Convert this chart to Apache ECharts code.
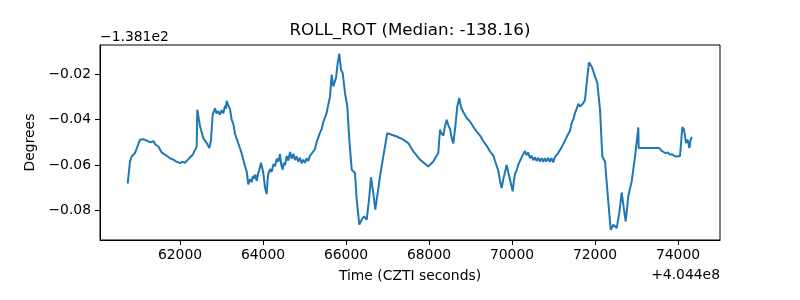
<!DOCTYPE html>
<html>
<head>
<meta charset="utf-8">
<script src="https://cdn.jsdelivr.net/npm/echarts@6/dist/echarts.min.js"></script>
<style>html,body{margin:0;padding:0;background:#fff}#c{width:800px;height:300px}</style>
</head>
<body>
<div id="c"></div>
<script>
// Axis offset labels (matplotlib-style offset text)
const timeOffsetLabel = "+4.044e8";
const rollOffsetLabel = "\u22121.381e2";
// Time (CZTI seconds, relative to +4.044e8)
const times = [
 60739,60795,60836,60915,61036,61075,61115,61160,61200,61236,61290,61356,61410,61477,61559,61620,61679,61760,61838,61920,62000,62060,62120,62180,62241,62300,62361,62402,62416,62482,62561,62643,62706,62747,62787,
 62843,62880,62922,62960,63004,63044,63084,63105,63125,63165,63204,63244,63284,63325,63366,63405,63445,63485,63525,63566,63607,63645,63686,63727,63755,63783,63815,63848,63880,63910,63951,63980,64007,64048,64089,64108,64127,64168,64209,64250,64289,64330,64368,64409,64440,64474,64500,64530,64570,64610,64650,64690,64730,64770,64810,64850,64890,64930,64970,65010,65050,65091,65130,65170,65212,65250,65290,65332,65370,65414,65450,65493,65530,65573,
 65614,65655,65693,65758,65799,65838,65879,65920,65975,66031,66079,66137,66216,66257,66320,66378,66433,66498,66554,66602,66657,66705,66763,66819,66898,66994,67100,67221,67380,67500,67621,67782,67982,68103,68223,
 68264,68300,68344,68385,68426,68465,68505,68545,68585,68643,68681,68729,68770,68826,68860,68900,68945,68987,69030,69070,69110,69149,69190,69230,69270,69308,69350,69390,69430,69469,69510,69550,69590,69630,69669,69710,69751,69790,69830,69870,69910,69951,70016,70045,70071,70112,70150,70190,70232,70272,70312,70350,70390,70433,70470,70510,70553,70590,70630,70670,70710,70753,70790,70830,70870,70910,70950,70994,71030,71075,71115,71155,71195,71235,71275,71316,71356,71398,71438,71478,71517,71557,71597,71640,71679,71720,71758,
 71799,71854,71919,71999,72054,72120,72175,72240,72295,72377,72440,72522,72585,72642,72698,72739,72801,72883,72964,73018,73043,73052,73245,73548,73600,73645,73700,73750,73806,73860,73910,73968,74010,74048,74089,74103,74144,74193,74234,74272,74313,74344
];
// ROLL_ROT (degrees, relative to -1.381e2)
const roll = [
 -0.0682,-0.0584,-0.0562,-0.0547,-0.0488,-0.0480,-0.0486,-0.0480,-0.0492,-0.0488,-0.0500,-0.0494,-0.0510,-0.0518,-0.0545,-0.0552,-0.0559,-0.0570,-0.0576,-0.0586,-0.0591,-0.0586,-0.0590,-0.0578,-0.0566,-0.0556,-0.0534,-0.0518,-0.0356,-0.0429,-0.0481,-0.0503,-0.0525,-0.0488,-0.0378,
 -0.0350,-0.0372,-0.0362,-0.0378,-0.0358,-0.0372,-0.0338,-0.0352,-0.0316,-0.0338,-0.0352,-0.0400,-0.0418,-0.0462,-0.0466,-0.0505,-0.0508,-0.0548,-0.0552,-0.0606,-0.0628,-0.0685,-0.0662,-0.0676,-0.0648,-0.0660,-0.0642,-0.0670,-0.0640,-0.0622,-0.0590,-0.0612,-0.0635,-0.0700,-0.0728,-0.0670,-0.0640,-0.0618,-0.0630,-0.0596,-0.0605,-0.0572,-0.0585,-0.0552,-0.0600,-0.0620,-0.0590,-0.0600,-0.0560,-0.0580,-0.0542,-0.0572,-0.0550,-0.0578,-0.0562,-0.0585,-0.0568,-0.0592,-0.0576,-0.0590,-0.0570,-0.0582,-0.0560,-0.0566,-0.0540,-0.0530,-0.0500,-0.0492,-0.0458,-0.0440,-0.0412,-0.0408,-0.0372,-0.0368,
 -0.0297,-0.0201,-0.0253,-0.0216,-0.0150,-0.0109,-0.0179,-0.0194,-0.0282,-0.0341,-0.0488,-0.0620,-0.0635,-0.0753,-0.0863,-0.0841,-0.0826,-0.0841,-0.0753,-0.0654,-0.0723,-0.0797,-0.0723,-0.0650,-0.0562,-0.0459,-0.0466,-0.0474,-0.0488,-0.0503,-0.0540,-0.0576,-0.0606,-0.0584,-0.0547,
 -0.0444,-0.0460,-0.0470,-0.0428,-0.0400,-0.0425,-0.0440,-0.0480,-0.0505,-0.0414,-0.0341,-0.0304,-0.0345,-0.0366,-0.0372,-0.0390,-0.0384,-0.0408,-0.0412,-0.0432,-0.0430,-0.0452,-0.0458,-0.0470,-0.0474,-0.0495,-0.0500,-0.0515,-0.0518,-0.0540,-0.0548,-0.0558,-0.0582,-0.0590,-0.0625,-0.0670,-0.0701,-0.0662,-0.0632,-0.0600,-0.0594,-0.0665,-0.0716,-0.0670,-0.0640,-0.0622,-0.0598,-0.0590,-0.0566,-0.0560,-0.0538,-0.0556,-0.0545,-0.0570,-0.0558,-0.0578,-0.0566,-0.0582,-0.0568,-0.0584,-0.0570,-0.0586,-0.0570,-0.0584,-0.0568,-0.0586,-0.0570,-0.0588,-0.0566,-0.0560,-0.0546,-0.0540,-0.0522,-0.0518,-0.0492,-0.0486,-0.0462,-0.0448,-0.0414,-0.0398,-0.0370,-0.0352,-0.0330,-0.0342,-0.0350,-0.0326,-0.0312,
 -0.0238,-0.0147,-0.0165,-0.0209,-0.0238,-0.0356,-0.0562,-0.0584,-0.0709,-0.0885,-0.0863,-0.0878,-0.0811,-0.0721,-0.0797,-0.0849,-0.0738,-0.0672,-0.0562,-0.0474,-0.0434,-0.0525,-0.0525,-0.0525,-0.0536,-0.0540,-0.0548,-0.0544,-0.0554,-0.0552,-0.0560,-0.0562,-0.0566,-0.0560,-0.0556,-0.0432,-0.0444,-0.0503,-0.0488,-0.0525,-0.0481,-0.0478
];
const xTicks = [62000,64000,66000,68000,70000,72000,74000];
const yTicks = [-0.08,-0.06,-0.04,-0.02];

const font = "DejaVu Sans";
const chart = echarts.init(document.getElementById('c'), null, {renderer:'canvas'});
const data = times.map((t,i)=>[t, roll[i]]);
chart.setOption({
  animation:false,
  backgroundColor:'#fff',
  grid:{left:100,right:80,top:45,bottom:60,show:true,borderColor:'#000',borderWidth:1,backgroundColor:'transparent'},
  xAxis:{
    type:'value', min:60072, max:75011,
    name:'Time (CZTI seconds)', nameLocation:'middle', nameGap:29,
    nameTextStyle:{fontFamily:font,fontSize:13.9,color:'#000'},
    axisLine:{show:true,lineStyle:{color:'#000',width:1}},
    axisTick:{show:true,inside:false,length:5,lineStyle:{color:'#000'},customValues:xTicks},
    axisLabel:{customValues:xTicks,fontFamily:font,fontSize:13.9,color:'#000',margin:8,formatter:v=>String(Math.round(v))},
    splitLine:{show:false}
  },
  yAxis:{
    type:'value', min:-0.09306, max:-0.00703,
    name:'Degrees', nameLocation:'middle', nameGap:56,
    nameTextStyle:{fontFamily:font,fontSize:13.9,color:'#000'},
    axisLine:{show:true,lineStyle:{color:'#000',width:1}},
    axisTick:{show:true,inside:false,length:5,lineStyle:{color:'#000'},customValues:yTicks},
    axisLabel:{customValues:yTicks,fontFamily:font,fontSize:13.9,color:'#000',margin:9,formatter:v=>v.toFixed(2).replace('-','\u2212')},
    splitLine:{show:false}
  },
  graphic:[
    {type:'text',x:410,y:31,style:{text:'ROLL_ROT (Median: -138.16)',fontFamily:font,fontSize:16.7,fill:'#000',align:'center',verticalAlign:'middle'}},
    {type:'text',x:100,y:37,style:{text:rollOffsetLabel,fontFamily:font,fontSize:13.9,fill:'#000',align:'left',verticalAlign:'middle'}},
    {type:'text',x:720,y:275,style:{text:timeOffsetLabel,fontFamily:font,fontSize:13.9,fill:'#000',align:'right',verticalAlign:'middle'}}
  ],
  series:[{type:'line',data:data,showSymbol:false,symbol:'none',lineStyle:{color:'#1f77b4',width:2},itemStyle:{color:'#1f77b4'}}]
});
</script>
</body>
</html>
